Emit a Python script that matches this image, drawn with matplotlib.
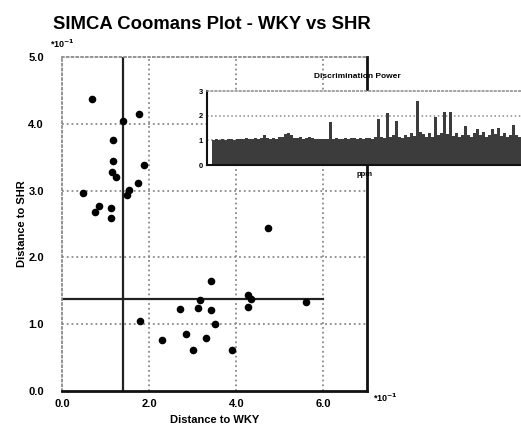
import matplotlib
matplotlib.use('Agg')
import matplotlib.pyplot as plt
import numpy as np

plt.rcParams['font.family'] = ['Liberation Sans', 'DejaVu Sans']
plt.rcParams['font.weight'] = 'bold'

# Coomans plot: distance of each sample to the two class models (x 10^-1)
dist_wky = [0.70, 1.77, 1.39, 1.16, 1.18, 1.89, 1.14, 1.23, 1.74, 1.54, 1.49,
            0.48, 0.85, 0.76, 1.13, 1.12,
            3.43, 4.28, 4.34, 4.28, 3.17, 3.12, 2.70, 3.42, 1.78, 3.52, 2.85,
            2.29, 3.30, 3.00, 3.90, 4.72, 5.60]
dist_shr = [4.37, 4.14, 4.04, 3.75, 3.44, 3.39, 3.28, 3.21, 3.11, 3.01, 2.94,
            2.96, 2.77, 2.68, 2.74, 2.59,
            1.65, 1.44, 1.37, 1.25, 1.36, 1.24, 1.22, 1.21, 1.05, 1.00, 0.85,
            0.76, 0.79, 0.62, 0.62, 2.44, 1.33]
crit_wky = 1.40
crit_shr = 1.37
crit_shr_end = 6.0

xticks = [0, 2, 4, 6]
xticklabels = ['0.0', '2.0', '4.0', '6.0']
yticks = [0, 1, 2, 3, 4, 5]
yticklabels = ['0.0', '1.0', '2.0', '3.0', '4.0', '5.0']

# discrimination power per variable (inset)
disc_power = [1.02, 1.04, 1.03, 1.05, 1.02, 1.06, 1.04, 1.03, 1.07, 1.05, 1.04,
              1.08, 1.06, 1.05, 1.09, 1.07, 1.10, 1.20, 1.08, 1.06, 1.10, 1.07,
              1.12, 1.15, 1.25, 1.30, 1.22, 1.10, 1.08, 1.12, 1.06, 1.09, 1.15,
              1.08, 1.05, 1.07, 1.04, 1.06, 1.05, 1.75, 1.06, 1.08, 1.05, 1.07,
              1.09, 1.06, 1.08, 1.10, 1.07, 1.09, 1.06, 1.08, 1.11, 1.07, 1.12,
              1.86, 1.15, 1.10, 2.10, 1.12, 1.20, 1.78, 1.15, 1.10, 1.22, 1.12,
              1.30, 1.18, 2.60, 1.35, 1.25, 1.15, 1.28, 1.12, 1.94, 1.20, 1.30,
              2.13, 1.25, 2.13, 1.18, 1.30, 1.15, 1.22, 1.58, 1.20, 1.14, 1.28,
              1.45, 1.22, 1.35, 1.15, 1.20, 1.46, 1.25, 1.50, 1.18, 1.28, 1.15,
              1.22, 1.62, 1.20, 1.15]

fig = plt.figure(figsize=(5.21, 4.37), dpi=100)
ax = fig.add_axes([0.119, 0.1053, 0.5854, 0.7643])

grid_col = '#8a8a8a'
for gx in [2, 4, 6]:
    ax.axvline(gx, color=grid_col, ls=':', lw=1.3, zorder=1)
for gy in [1, 2, 3, 4]:
    ax.axhline(gy, color=grid_col, ls=':', lw=1.3, zorder=1)

ax.axvline(crit_wky, color='#222222', lw=1.6, zorder=2)
ax.plot([0, crit_shr_end], [crit_shr, crit_shr], color='#222222', lw=1.6, zorder=2)

ax.scatter(dist_wky, dist_shr, s=20, color='black', zorder=3)

ax.set_xlim(0, 7)
ax.set_ylim(0, 5)
ax.set_xticks(xticks)
ax.set_xticklabels(xticklabels, fontsize=8, fontweight='bold')
ax.set_yticks(yticks)
ax.set_yticklabels(yticklabels, fontsize=8, fontweight='bold')
ax.tick_params(axis='x', length=0, pad=6)
ax.tick_params(axis='y', length=0, pad=13)
for side in ['top', 'left']:
    ax.spines[side].set_color(grid_col)
    ax.spines[side].set_linestyle(':')
    ax.spines[side].set_linewidth(1.3)
for side in ['bottom', 'right']:
    ax.spines[side].set_color('#111111')
    ax.spines[side].set_linewidth(2)

ax.set_xlabel('Distance to WKY', fontsize=8, fontweight='bold', labelpad=4)
ax.set_ylabel('Distance to SHR', fontsize=8, fontweight='bold', labelpad=1)
fig.text(0.407, 0.945, 'SIMCA Coomans Plot - WKY vs SHR', fontsize=13.3,
         fontweight='bold', ha='center', va='center')
fig.text(0.096, 0.885, r'*10$^{-1}$', fontsize=6.5, ha='left', va='bottom')
fig.text(0.716, 0.09, r'*10$^{-1}$', fontsize=6.5, ha='left', va='center')

# inset
ins = fig.add_axes([0.397, 0.6224, 0.603, 0.1693], zorder=5)
ins.set_facecolor('white')
for gy in [1, 2]:
    ins.axhline(gy, color=grid_col, ls=':', lw=1.1, zorder=0)
ins.bar(np.arange(len(disc_power)), disc_power, width=1.0, color='#3c3c3c',
        linewidth=0, zorder=2)
ins.set_xlim(-2.2, 102.5)
ins.set_ylim(0, 3)
ins.set_xticks([])
ins.set_yticks([0, 1, 2, 3])
ins.set_yticklabels(['0', '1', '2', '3'], fontsize=5.5, fontweight='bold')
ins.tick_params(axis='y', length=0, pad=3)
ins.spines['right'].set_visible(False)
ins.spines['top'].set_color(grid_col)
ins.spines['top'].set_linestyle(':')
ins.spines['top'].set_linewidth(1.1)
ins.spines['left'].set_color('#111111')
ins.spines['left'].set_linewidth(1.5)
ins.spines['bottom'].set_color('#111111')
ins.spines['bottom'].set_linewidth(1.5)
fig.text(0.685, 0.824, 'Discrimination Power', fontsize=6, fontweight='bold',
         ha='center', va='center')
fig.text(0.70, 0.600, 'ppm', fontsize=5.5, fontweight='bold', ha='center',
         va='center')

fig.savefig('out.png', dpi=100)
